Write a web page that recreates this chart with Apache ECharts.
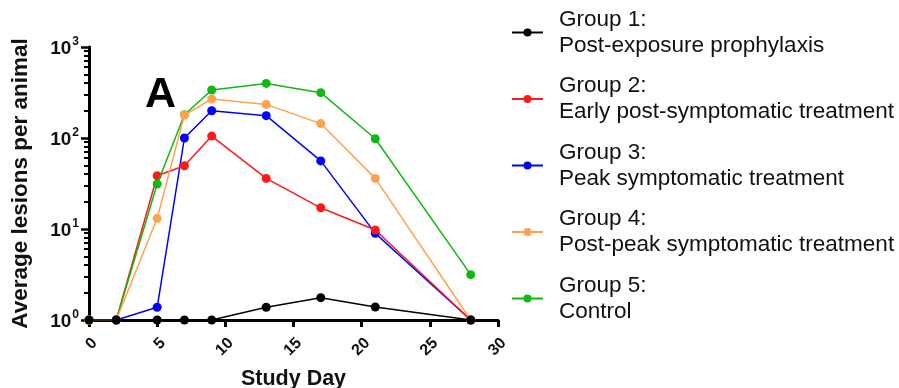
<!DOCTYPE html>
<html>
<head>
<meta charset="utf-8">
<script src="https://cdn.jsdelivr.net/npm/echarts@6/dist/echarts.min.js"></script>
<style>html,body{margin:0;padding:0;background:#fff}#c{width:899px;height:388px}</style>
</head>
<body>
<div id="c"></div>
<script>
var days = [0, 2, 5, 7, 9, 13, 17, 21, 28];
var group1 = [1, 1, 1, 1, 1, 1.38, 1.76, 1.39, 1];
var group2 = [1, 1, 38.5, 49.6, 105, 36, 17.1, 9.75, 1];
var group3 = [1, 1, 1.38, 100, 199, 176, 56, 8.96, 1];
var group4 = [1, 1, 13.1, 179, 268, 234, 144, 36, 1];
var group5 = [1, 1, 31.2, 180, 337, 398, 315, 98, 3.15];
var groupNames = ['Group 1', 'Group 2', 'Group 3', 'Group 4', 'Group 5'];
var groupDescs = ['Post-exposure prophylaxis', 'Early post-symptomatic treatment', 'Peak symptomatic treatment', 'Post-peak symptomatic treatment', 'Control'];
var groupColors = ['#000000', '#ff1a1a', '#0000ff', '#ffa24d', '#12b812'];
var groupValues = [group1, group2, group3, group4, group5];
var groupZ = [6, 3, 2, 5, 4];
var yMajorTicks = [1, 10, 100, 1000];
var yMinorTicks = [2,3,4,5,6,7,8,9,20,30,40,50,60,70,80,90,200,300,400,500,600,700,800,900];
var xTicks = [0, 5, 10, 15, 20, 25, 30];
var panelLabel = 'A';
var xTitle = 'Study Day';
var yTitle = 'Average lesions per animal';

var FONT = '"Liberation Sans", Arial, sans-serif';
var chart = echarts.init(document.getElementById('c'), null, {renderer: 'canvas'});

var series = groupNames.map(function (n, i) {
  return {
    name: n,
    type: 'line',
    yAxisIndex: 0,
    data: days.map(function (d, k) { return [d, groupValues[i][k]]; }),
    symbol: 'circle',
    symbolSize: 9,
    z: groupZ[i],
    color: groupColors[i],
    lineStyle: {width: 1.5, color: groupColors[i]},
    itemStyle: {color: groupColors[i]},
    clip: false,
    animation: false
  };
});

var supMap = {0: '0', 1: '1', 2: '2', 3: '3'};

chart.setOption({
  animation: false,
  textStyle: {fontFamily: FONT},
  grid: {left: 89, right: 401, top: 47, bottom: 68, outerBoundsMode: 'none', containLabel: false},
  graphic: [{
    type: 'text', left: 145, top: 74,
    style: {text: panelLabel, font: 'bold 43px ' + FONT, fill: '#000'}
  }],
  legend: {
    orient: 'vertical', left: 506, top: -5,
    itemWidth: 31, itemHeight: 10, itemGap: 1.5,
    data: groupNames,
    formatter: function (name) {
      var i = groupNames.indexOf(name);
      return name + ':\n' + groupDescs[i];
    },
    textStyle: {fontFamily: FONT, fontSize: 22.5, lineHeight: 26, color: '#111', padding: [13, 0, 0, 11]}
  },
  xAxis: {
    type: 'value', min: 0, max: 30, interval: 5,
    name: xTitle, nameLocation: 'middle', nameGap: 48,
    nameTextStyle: {fontFamily: FONT, fontWeight: 'bold', fontSize: 21.5, color: '#111'},
    axisLine: {show: true, lineStyle: {color: '#000', width: 3}},
    axisTick: {show: true, length: 7, lineStyle: {color: '#000', width: 3}},
    axisLabel: {rotate: 45, margin: 15, verticalAlign: 'top', fontFamily: FONT, fontWeight: 'bold', fontSize: 16, color: '#111'},
    splitLine: {show: false}
  },
  yAxis: [{
    type: 'log', logBase: 10, min: 1, max: 1000, position: 'left',
    name: yTitle, nameLocation: 'middle', nameGap: 57,
    nameTextStyle: {fontFamily: FONT, fontWeight: 'bold', fontSize: 22.5, color: '#111'},
    axisLine: {show: true, lineStyle: {color: '#000', width: 3}},
    axisTick: {show: true, length: 8, customValues: yMajorTicks, lineStyle: {color: '#000', width: 2.5}},
    axisLabel: {
      customValues: yMajorTicks, margin: 10,
      formatter: function (v) {
        var e = Math.round(Math.log10(v));
        return '{b|10}{s|' + supMap[e] + '}';
      },
      rich: {
        b: {fontFamily: FONT, fontWeight: 'bold', fontSize: 19, color: '#111', lineHeight: 22, verticalAlign: 'bottom'},
        s: {fontFamily: FONT, fontWeight: 'bold', fontSize: 12, color: '#111', lineHeight: 22, verticalAlign: 'top', padding: [0, 0, 10, 1]}
      }
    },
    splitLine: {show: false}
  }, {
    type: 'log', logBase: 10, min: 1, max: 1000, position: 'left', offset: 0,
    axisLine: {show: false},
    axisTick: {show: true, length: 5, customValues: yMinorTicks, lineStyle: {color: '#000', width: 2}},
    axisLabel: {show: false},
    splitLine: {show: false}
  }],
  series: series
});
</script>
</body>
</html>
